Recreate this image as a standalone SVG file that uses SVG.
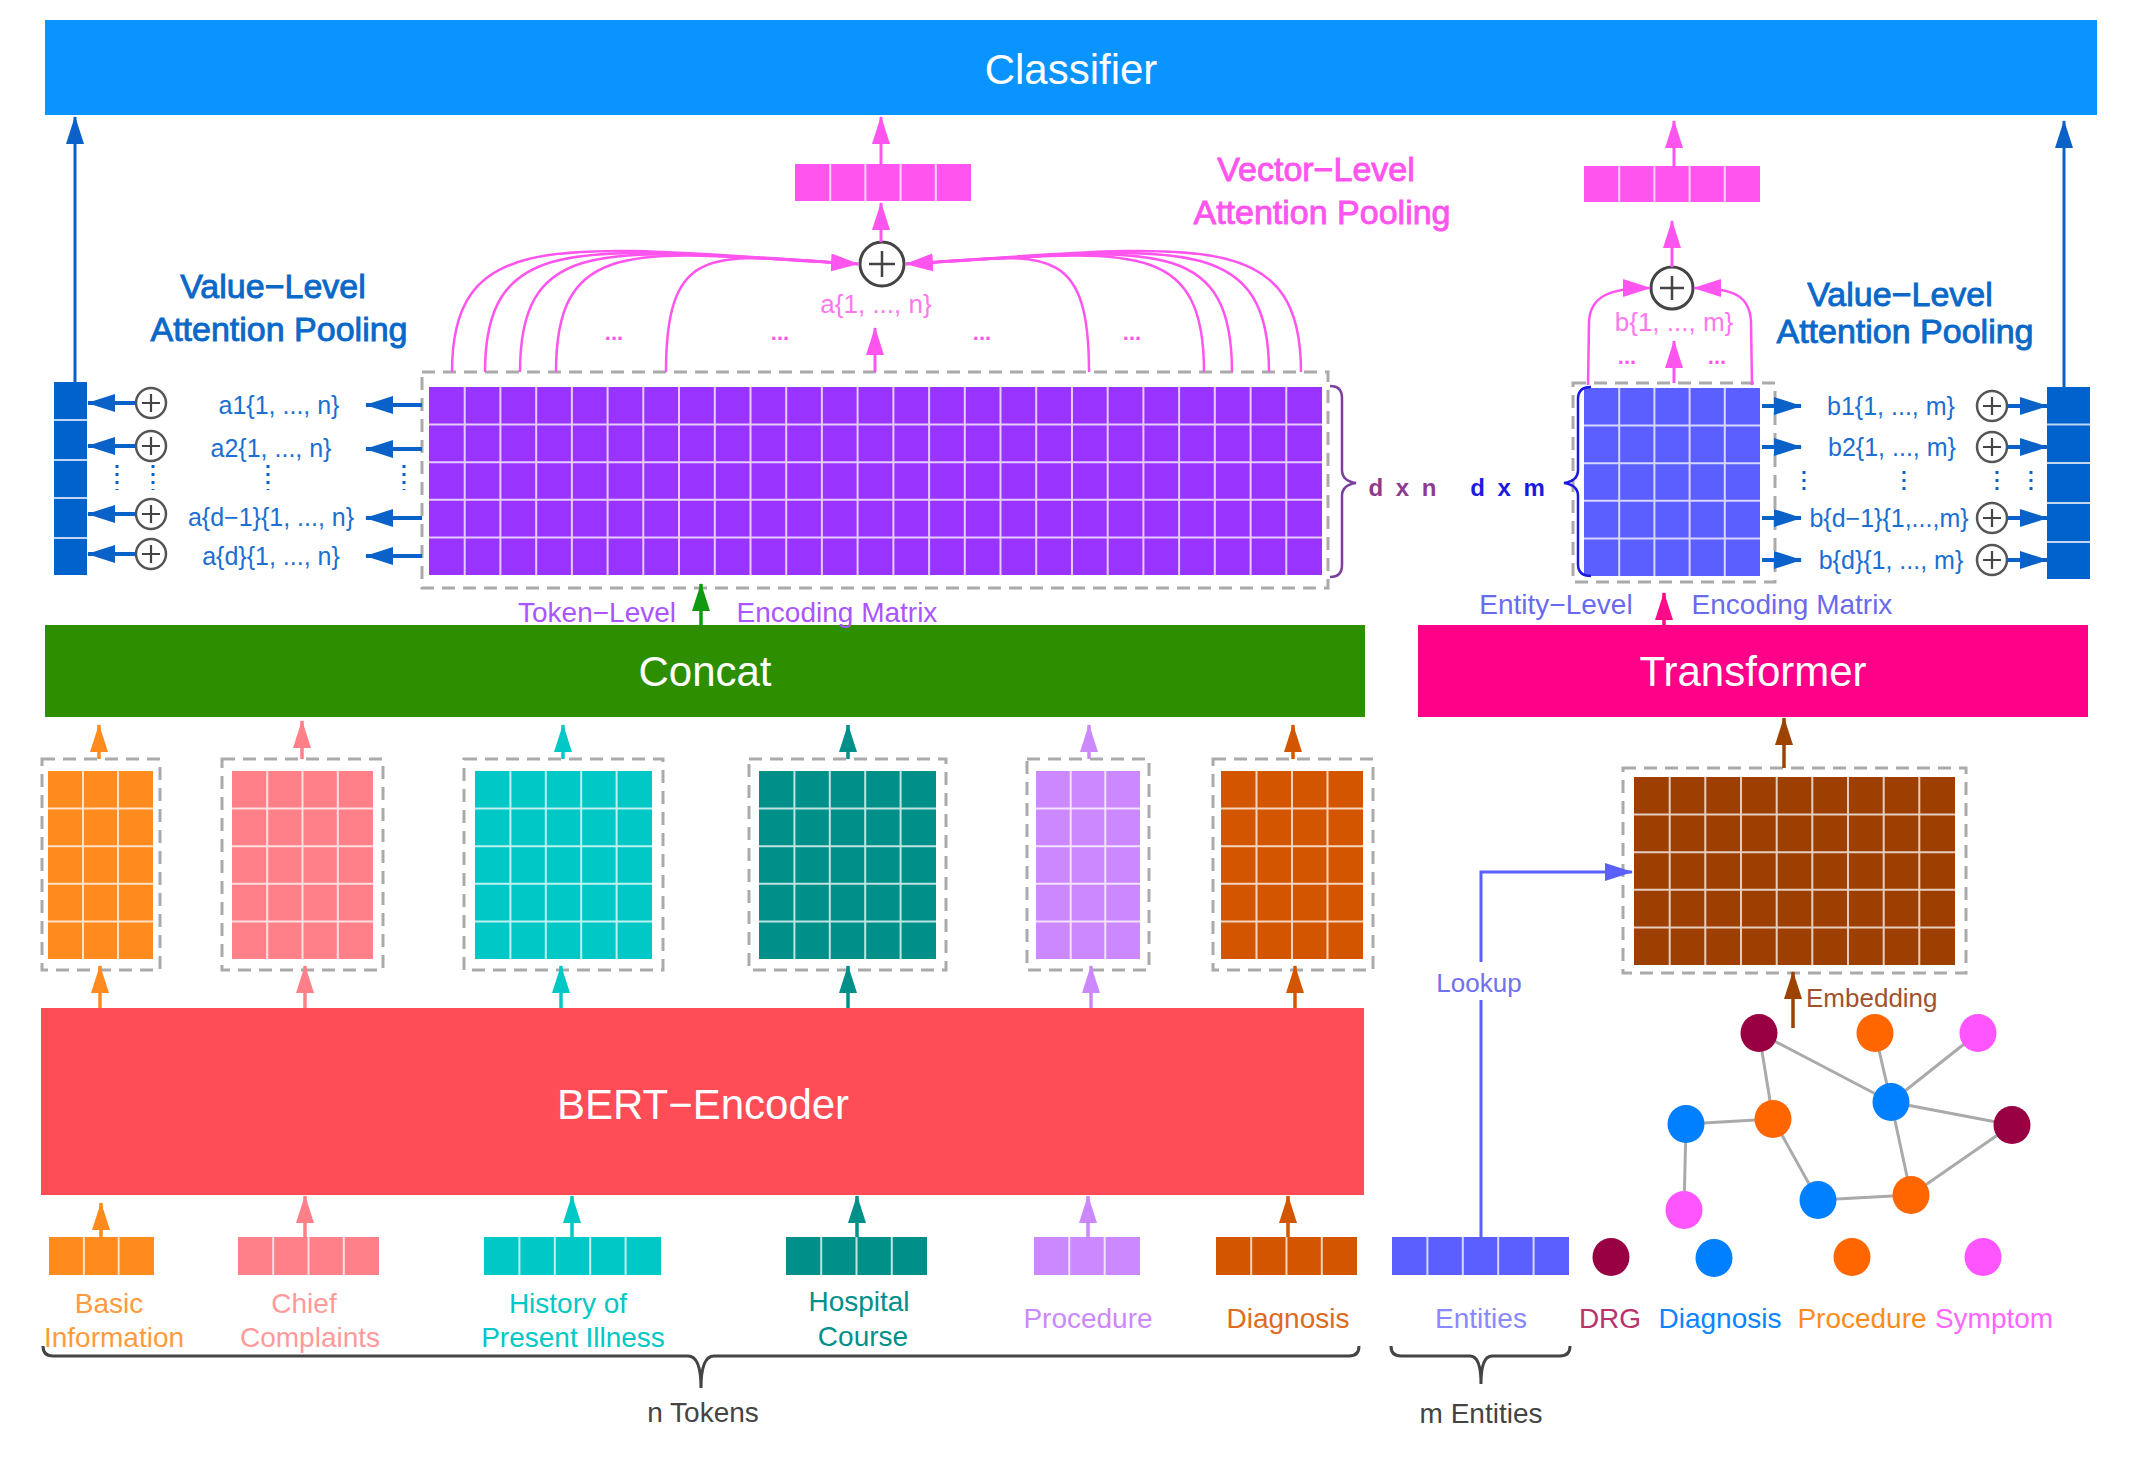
<svg xmlns="http://www.w3.org/2000/svg" width="2130" height="1472" viewBox="0 0 2130 1472">
<style>
.t{font-family:"Liberation Sans",Arial,Helvetica,sans-serif}
.grid{stroke:#ffffff;stroke-opacity:0.75;stroke-width:2;fill:none}
.dash{fill:none;stroke:#AAAAAA;stroke-width:3;stroke-dasharray:13 8}
.pc circle{fill:#ffffff;stroke:#555555;stroke-width:2.5}
.pc path{stroke:#444444;stroke-width:2.2;fill:none}
.big{font-size:42px;fill:#ffffff;text-anchor:middle}
.lab{font-size:25px;fill:#1B6FD1;text-anchor:middle}
.sec{font-size:28px;text-anchor:middle}
.ttl{font-size:34px;text-anchor:middle;stroke-width:0.9}
.dot{stroke-width:3;stroke-dasharray:3 5;fill:none}
.edge{stroke:#AAAAAA;stroke-width:3}
</style>
<defs>
<marker id="aBlue" markerUnits="userSpaceOnUse" viewBox="0 0 28 18" markerWidth="28" markerHeight="18" refX="27" refY="9" orient="auto"><path d="M0,0 L28,9 L0,18 z" fill="#0A62C8"/></marker>
<marker id="aMag" markerUnits="userSpaceOnUse" viewBox="0 0 28 18" markerWidth="28" markerHeight="18" refX="27" refY="9" orient="auto"><path d="M0,0 L28,9 L0,18 z" fill="#FF55EE"/></marker>
<marker id="aGreen" markerUnits="userSpaceOnUse" viewBox="0 0 28 18" markerWidth="28" markerHeight="18" refX="27" refY="9" orient="auto"><path d="M0,0 L28,9 L0,18 z" fill="#119911"/></marker>
<marker id="aPink" markerUnits="userSpaceOnUse" viewBox="0 0 28 18" markerWidth="28" markerHeight="18" refX="27" refY="9" orient="auto"><path d="M0,0 L28,9 L0,18 z" fill="#FF0A88"/></marker>
<marker id="aOrange" markerUnits="userSpaceOnUse" viewBox="0 0 28 18" markerWidth="28" markerHeight="18" refX="27" refY="9" orient="auto"><path d="M0,0 L28,9 L0,18 z" fill="#FF8A1E"/></marker>
<marker id="aRose" markerUnits="userSpaceOnUse" viewBox="0 0 28 18" markerWidth="28" markerHeight="18" refX="27" refY="9" orient="auto"><path d="M0,0 L28,9 L0,18 z" fill="#FF8088"/></marker>
<marker id="aCyan" markerUnits="userSpaceOnUse" viewBox="0 0 28 18" markerWidth="28" markerHeight="18" refX="27" refY="9" orient="auto"><path d="M0,0 L28,9 L0,18 z" fill="#00C8C6"/></marker>
<marker id="aTeal" markerUnits="userSpaceOnUse" viewBox="0 0 28 18" markerWidth="28" markerHeight="18" refX="27" refY="9" orient="auto"><path d="M0,0 L28,9 L0,18 z" fill="#00908A"/></marker>
<marker id="aLav" markerUnits="userSpaceOnUse" viewBox="0 0 28 18" markerWidth="28" markerHeight="18" refX="27" refY="9" orient="auto"><path d="M0,0 L28,9 L0,18 z" fill="#CC88FF"/></marker>
<marker id="aDOr" markerUnits="userSpaceOnUse" viewBox="0 0 28 18" markerWidth="28" markerHeight="18" refX="27" refY="9" orient="auto"><path d="M0,0 L28,9 L0,18 z" fill="#D45500"/></marker>
<marker id="aBrown" markerUnits="userSpaceOnUse" viewBox="0 0 28 18" markerWidth="28" markerHeight="18" refX="27" refY="9" orient="auto"><path d="M0,0 L28,9 L0,18 z" fill="#9C4300"/></marker>
<marker id="aEnt" markerUnits="userSpaceOnUse" viewBox="0 0 28 18" markerWidth="28" markerHeight="18" refX="27" refY="9" orient="auto"><path d="M0,0 L28,9 L0,18 z" fill="#5B5FFF"/></marker>
</defs>
<rect width="2130" height="1472" fill="#ffffff"/>

<!-- main bars -->
<g id="classifier"><rect x="45" y="20" width="2052" height="95" fill="#0994FF"/><text class="t big" x="1071" y="84">Classifier</text></g>
<g id="concat"><rect x="45" y="625" width="1320" height="92" fill="#2D8E00"/><text class="t big" x="705" y="686">Concat</text></g>
<g id="transformer"><rect x="1418" y="625" width="670" height="92" fill="#FF0088"/><text class="t big" x="1753" y="686">Transformer</text></g>
<g id="bert"><rect x="41" y="1008" width="1323" height="187" fill="#FF4D58"/><text class="t big" x="703" y="1119">BERT−Encoder</text></g>

<!-- token-level matrix -->
<g id="token-matrix">
<rect class="dash" x="422" y="372" width="906" height="216"/>
<rect x="429" y="387" width="893" height="188" fill="#9933FF"/>
<path class="grid" d="M464.7 387V575M500.4 387V575M536.2 387V575M571.9 387V575M607.6 387V575M643.3 387V575M679 387V575M714.8 387V575M750.5 387V575M786.2 387V575M821.9 387V575M857.6 387V575M893.4 387V575M929.1 387V575M964.8 387V575M1000.5 387V575M1036.2 387V575M1072 387V575M1107.7 387V575M1143.4 387V575M1179.1 387V575M1214.8 387V575M1250.6 387V575M1286.3 387V575M429 424.6H1322M429 462.2H1322M429 499.8H1322M429 537.4H1322"/>
<path d="M1330 386 Q1342 386 1342 398 L1342 470 Q1342 481 1356 483 Q1342 485 1342 496 L1342 565 Q1342 577 1330 577" fill="none" stroke="#7B3F9E" stroke-width="2.5"/>
<text class="t" x="1404" y="496" font-size="24" font-weight="bold" fill="#8E3A8E" text-anchor="middle" letter-spacing="3">d x n</text>
<text class="t sec" x="597" y="622" fill="#AA55FF">Token−Level</text>
<text class="t sec" x="837" y="622" fill="#AA55FF">Encoding Matrix</text>
</g>

<!-- entity-level matrix -->
<g id="entity-matrix">
<rect class="dash" x="1573" y="383" width="202" height="199"/>
<rect x="1584" y="388" width="176" height="188" fill="#5B5FFF"/>
<path class="grid" d="M1619.2 388V576M1654.4 388V576M1689.6 388V576M1724.8 388V576M1584 425.6H1760M1584 463.2H1760M1584 500.8H1760M1584 538.4H1760"/>
<path d="M1591 387 Q1578 387 1578 399 L1578 470 Q1578 481 1564 483 Q1578 485 1578 496 L1578 564 Q1578 576 1591 576" fill="none" stroke="#1A1AE0" stroke-width="2.5"/>
<text class="t" x="1509" y="496" font-size="24" font-weight="bold" fill="#1A1AE0" text-anchor="middle" letter-spacing="3">d x m</text>
<text class="t sec" x="1556" y="614" fill="#6A6AEE">Entity−Level</text>
<text class="t sec" x="1792" y="614" fill="#6A6AEE">Encoding Matrix</text>
</g>

<!-- left value-level pooling -->
<g id="left-value-pooling">
<text class="t ttl" x="273" y="298" fill="#0A68C8" stroke="#0A68C8">Value−Level</text>
<text class="t ttl" x="279" y="341" fill="#0A68C8" stroke="#0A68C8">Attention Pooling</text>
<rect x="54" y="382" width="33" height="193" fill="#0062CC"/>
<path class="grid" d="M54 420H87M54 460H87M54 498H87M54 538H87"/>
<g class="pc"><circle cx="151" cy="403" r="15"/><path d="M142 403H160M151 394V412"/></g>
<g class="pc"><circle cx="151" cy="446" r="15"/><path d="M142 446H160M151 437V455"/></g>
<g class="pc"><circle cx="151" cy="514" r="15"/><path d="M142 514H160M151 505V523"/></g>
<g class="pc"><circle cx="151" cy="554" r="15"/><path d="M142 554H160M151 545V563"/></g>
<text class="t lab" x="279" y="414">a1{1, ..., n}</text>
<text class="t lab" x="271" y="457">a2{1, ..., n}</text>
<text class="t lab" x="271" y="526">a{d−1}{1, ..., n}</text>
<text class="t lab" x="271" y="565">a{d}{1, ..., n}</text>
<path class="dot" stroke="#0A62C8" d="M117 465V490M153 465V490M268 465V490M404 465V490"/>
</g>

<!-- right value-level pooling -->
<g id="right-value-pooling">
<text class="t ttl" x="1900" y="306" fill="#0A68C8" stroke="#0A68C8">Value−Level</text>
<text class="t ttl" x="1905" y="343" fill="#0A68C8" stroke="#0A68C8">Attention Pooling</text>
<rect x="2047" y="387" width="43" height="192" fill="#0062CC"/>
<path class="grid" d="M2047 424.5H2090M2047 463H2090M2047 503H2090M2047 542H2090"/>
<g class="pc"><circle cx="1992" cy="406" r="15"/><path d="M1983 406H2001M1992 397V415"/></g>
<g class="pc"><circle cx="1992" cy="447" r="15"/><path d="M1983 447H2001M1992 438V456"/></g>
<g class="pc"><circle cx="1992" cy="518" r="15"/><path d="M1983 518H2001M1992 509V527"/></g>
<g class="pc"><circle cx="1992" cy="560" r="15"/><path d="M1983 560H2001M1992 551V569"/></g>
<text class="t lab" x="1891" y="415">b1{1, ..., m}</text>
<text class="t lab" x="1892" y="456">b2{1, ..., m}</text>
<text class="t lab" x="1889" y="527">b{d−1}{1,...,m}</text>
<text class="t lab" x="1891" y="569">b{d}{1, ..., m}</text>
<path class="dot" stroke="#0A62C8" d="M1804 471V494M1904 471V494M1997 471V494M2031 471V494"/>
</g>

<!-- vector-level pooling -->
<g id="vector-pooling">
<text class="t ttl" x="1316" y="181" fill="#FF55EE" stroke="#FF55EE">Vector−Level</text>
<text class="t ttl" x="1322" y="224" fill="#FF55EE" stroke="#FF55EE">Attention Pooling</text>
<rect x="795" y="164" width="176" height="37" fill="#FF55EE"/>
<path class="grid" d="M830.2 164V201M865.4 164V201M900.6 164V201M935.8 164V201"/>
<circle cx="882" cy="264" r="22" fill="#ffffff" stroke="#444444" stroke-width="3"/>
<path d="M869 264H895M882 251V277" stroke="#444444" stroke-width="2.5"/>
<text class="t" x="876" y="313" font-size="26" fill="#FF77EE" text-anchor="middle">a{1, ..., n}</text>
<g class="t" font-size="22" font-weight="bold" fill="#FF55EE" text-anchor="middle"><text x="614" y="340">...</text><text x="780" y="340">...</text><text x="982" y="340">...</text><text x="1132" y="340">...</text><text x="1627" y="364">...</text><text x="1717" y="364">...</text></g>
<rect x="1584" y="166" width="176" height="36" fill="#FF55EE"/>
<path class="grid" d="M1619.2 166V202M1654.4 166V202M1689.6 166V202M1724.8 166V202"/>
<circle cx="1672" cy="288" r="21" fill="#ffffff" stroke="#444444" stroke-width="3"/>
<path d="M1660 288H1684M1672 276V300" stroke="#444444" stroke-width="2.5"/>
<text class="t" x="1674" y="331" font-size="26" fill="#FF77EE" text-anchor="middle">b{1, ..., m}</text>
</g>

<!-- section encodings -->
<g id="enc-basic"><rect class="dash" x="42" y="759" width="118" height="211"/><rect x="48" y="771" width="105" height="188" fill="#FF8A1E"/><path class="grid" d="M83 771V959M118 771V959M48 808.6H153M48 846.2H153M48 883.8H153M48 921.4H153"/></g>
<g id="enc-chief"><rect class="dash" x="222" y="759" width="161" height="211"/><rect x="232" y="771" width="141" height="188" fill="#FF8088"/><path class="grid" d="M267.2 771V959M302.5 771V959M337.8 771V959M232 808.6H373M232 846.2H373M232 883.8H373M232 921.4H373"/></g>
<g id="enc-history"><rect class="dash" x="464" y="759" width="199" height="211"/><rect x="475" y="771" width="177" height="188" fill="#00C8C6"/><path class="grid" d="M510.4 771V959M545.8 771V959M581.2 771V959M616.6 771V959M475 808.6H652M475 846.2H652M475 883.8H652M475 921.4H652"/></g>
<g id="enc-hospital"><rect class="dash" x="749" y="759" width="197" height="211"/><rect x="759" y="771" width="177" height="188" fill="#00908A"/><path class="grid" d="M794.4 771V959M829.8 771V959M865.2 771V959M900.6 771V959M759 808.6H936M759 846.2H936M759 883.8H936M759 921.4H936"/></g>
<g id="enc-procedure"><rect class="dash" x="1027" y="759" width="122" height="211"/><rect x="1036" y="771" width="104" height="188" fill="#CC88FF"/><path class="grid" d="M1070.7 771V959M1105.3 771V959M1036 808.6H1140M1036 846.2H1140M1036 883.8H1140M1036 921.4H1140"/></g>
<g id="enc-diagnosis"><rect class="dash" x="1213" y="759" width="160" height="211"/><rect x="1221" y="771" width="142" height="188" fill="#D45500"/><path class="grid" d="M1256.5 771V959M1292 771V959M1327.5 771V959M1221 808.6H1363M1221 846.2H1363M1221 883.8H1363M1221 921.4H1363"/></g>

<!-- entity embedding -->
<g id="entity-embedding"><rect class="dash" x="1623" y="768" width="343" height="205"/><rect x="1634" y="777" width="321" height="188" fill="#9C3F00"/><path class="grid" d="M1669.7 777V965M1705.3 777V965M1741 777V965M1776.7 777V965M1812.3 777V965M1848 777V965M1883.7 777V965M1919.3 777V965M1634 814.6H1955M1634 852.2H1955M1634 889.8H1955M1634 927.4H1955"/>
<text class="t" x="1806" y="1007" font-size="26" fill="#A0522D">Embedding</text></g>

<!-- inputs -->
<g id="in-basic"><rect x="49" y="1237" width="105" height="38" fill="#FF8A1E"/><path class="grid" d="M83.9 1237V1275M118.7 1237V1275"/><text class="t sec" x="109" y="1313" fill="#FF9A40">Basic</text><text class="t sec" x="114" y="1347" fill="#FF9A40">Information</text></g>
<g id="in-chief"><rect x="238" y="1237" width="141" height="38" fill="#FF8088"/><path class="grid" d="M273.2 1237V1275M308.5 1237V1275M343.8 1237V1275"/><text class="t sec" x="304" y="1313" fill="#FF9A9A">Chief</text><text class="t sec" x="310" y="1347" fill="#FF9A9A">Complaints</text></g>
<g id="in-history"><rect x="484" y="1237" width="177" height="38" fill="#00C8C6"/><path class="grid" d="M519.4 1237V1275M554.8 1237V1275M590.2 1237V1275M625.6 1237V1275"/><text class="t sec" x="568" y="1313" fill="#00C8C6">History of</text><text class="t sec" x="573" y="1347" fill="#00C8C6">Present Illness</text></g>
<g id="in-hospital"><rect x="786" y="1237" width="141" height="38" fill="#00908A"/><path class="grid" d="M821.2 1237V1275M856.5 1237V1275M891.8 1237V1275"/><text class="t sec" x="859" y="1311" fill="#00908A">Hospital</text><text class="t sec" x="863" y="1346" fill="#00908A">Course</text></g>
<g id="in-procedure"><rect x="1034" y="1237" width="106" height="38" fill="#CC88FF"/><path class="grid" d="M1069.3 1237V1275M1104.7 1237V1275"/><text class="t sec" x="1088" y="1328" fill="#CC88FF">Procedure</text></g>
<g id="in-diagnosis"><rect x="1216" y="1237" width="141" height="38" fill="#D45500"/><path class="grid" d="M1251.2 1237V1275M1286.5 1237V1275M1321.8 1237V1275"/><text class="t sec" x="1288" y="1328" fill="#DD6A20">Diagnosis</text></g>
<g id="in-entities"><rect x="1392" y="1237" width="177" height="38" fill="#5B5FFF"/><path class="grid" d="M1427.4 1237V1275M1462.8 1237V1275M1498.2 1237V1275M1533.6 1237V1275"/><text class="t sec" x="1481" y="1328" fill="#8888FF">Entities</text></g>

<!-- braces -->
<g id="braces" fill="none" stroke="#444444" stroke-width="3">
<path d="M43 1346 Q43 1356 53 1356 L688 1356 Q701 1356 701 1388 Q701 1356 714 1356 L1349 1356 Q1359 1356 1359 1346"/>
<path d="M1391 1346 Q1391 1356 1401 1356 L1470 1356 Q1481 1356 1481 1384 Q1481 1356 1492 1356 L1560 1356 Q1570 1356 1570 1346"/>
</g>
<text class="t sec" x="703" y="1422" fill="#444444">n Tokens</text>
<text class="t sec" x="1481" y="1423" fill="#444444">m Entities</text>

<!-- legend -->
<g id="legend">
<ellipse cx="1611" cy="1257" rx="18.5" ry="19" fill="#990044"/>
<ellipse cx="1714" cy="1258" rx="18.5" ry="19" fill="#007FFF"/>
<ellipse cx="1852" cy="1257" rx="18.5" ry="19" fill="#FF6600"/>
<ellipse cx="1983" cy="1257" rx="18.5" ry="19" fill="#FF55FF"/>
<text class="t sec" x="1610" y="1328" fill="#B8336A">DRG</text>
<text class="t sec" x="1720" y="1328" fill="#0A84FF">Diagnosis</text>
<text class="t sec" x="1862" y="1328" fill="#FF8C1A">Procedure</text>
<text class="t sec" x="1994" y="1328" fill="#FF66FF">Symptom</text>
</g>

<!-- connectors -->
<g id="connectors" fill="none">
<!-- graph edges -->
<g class="edge">
<path d="M1759 1033L1773 1119M1759 1033L1891 1102M1875 1033L1891 1102M1978 1033L1891 1102M1891 1102L2012 1125M1686 1124L1773 1119M1686 1124L1684 1210M1773 1119L1818 1200M1818 1200L1911 1195M1891 1102L1911 1195M2012 1125L1911 1195"/>
</g>
<!-- classifier inputs -->
<path d="M75 382V117" stroke="#0A62C8" stroke-width="3" marker-end="url(#aBlue)"/>
<path d="M2064 387V121" stroke="#0A62C8" stroke-width="3" marker-end="url(#aBlue)"/>
<path d="M881 164V117" stroke="#FF55EE" stroke-width="3" marker-end="url(#aMag)"/>
<path d="M1674 166V121" stroke="#FF55EE" stroke-width="3" marker-end="url(#aMag)"/>
<path d="M881 242V203" stroke="#FF55EE" stroke-width="3" marker-end="url(#aMag)"/>
<path d="M1672 267V221" stroke="#FF55EE" stroke-width="3" marker-end="url(#aMag)"/>
<path d="M875 372V328" stroke="#FF55EE" stroke-width="3" marker-end="url(#aMag)"/>
<path d="M1674 383V341" stroke="#FF55EE" stroke-width="3" marker-end="url(#aMag)"/>
<!-- vector-level curves -->
<g stroke="#FF55EE" stroke-width="2.5">
<path d="M452 372C452 225 562 245 858 264"/>
<path d="M485 372C485 228 585 248 858 264"/>
<path d="M520 372C520 230 611 250 858 264"/>
<path d="M556 372C556 232 638 252 858 264"/>
<path d="M666 372C666 236 718 256 858 264" marker-end="url(#aMag)"/>
<path d="M1301 372C1301 225 1194 245 906 264"/>
<path d="M1269 372C1269 228 1171 248 906 264"/>
<path d="M1232 372C1232 230 1144 250 906 264"/>
<path d="M1204 372C1204 232 1124 252 906 264"/>
<path d="M1089 372C1089 236 1040 256 906 264" marker-end="url(#aMag)"/>
<path d="M1588 385L1589 322C1590 296 1610 288 1650 288" marker-end="url(#aMag)"/>
<path d="M1752 385L1751 322C1750 296 1734 288 1694 288" marker-end="url(#aMag)"/>
</g>
<!-- value-level arrows -->
<g stroke="#0A62C8" stroke-width="4">
<path d="M422 405H366" marker-end="url(#aBlue)"/>
<path d="M422 449H366" marker-end="url(#aBlue)"/>
<path d="M422 518H366" marker-end="url(#aBlue)"/>
<path d="M422 556H366" marker-end="url(#aBlue)"/>
<path d="M136 403H88" marker-end="url(#aBlue)"/>
<path d="M136 446H88" marker-end="url(#aBlue)"/>
<path d="M136 514H88" marker-end="url(#aBlue)"/>
<path d="M136 554H88" marker-end="url(#aBlue)"/>
<path d="M1762 406H1801" marker-end="url(#aBlue)"/>
<path d="M1762 447H1801" marker-end="url(#aBlue)"/>
<path d="M1762 518H1801" marker-end="url(#aBlue)"/>
<path d="M1762 560H1801" marker-end="url(#aBlue)"/>
<path d="M2007 406H2047" marker-end="url(#aBlue)"/>
<path d="M2007 447H2047" marker-end="url(#aBlue)"/>
<path d="M2007 518H2047" marker-end="url(#aBlue)"/>
<path d="M2007 560H2047" marker-end="url(#aBlue)"/>
</g>
<!-- encoders to matrices -->
<path d="M701 625V584" stroke="#119911" stroke-width="3.5" marker-end="url(#aGreen)"/>
<path d="M1664 625V593" stroke="#FF0A88" stroke-width="3.5" marker-end="url(#aPink)"/>
<g stroke-width="3.5">
<path d="M99 759V725" stroke="#FF8A1E" marker-end="url(#aOrange)"/>
<path d="M302 759V721" stroke="#FF8088" marker-end="url(#aRose)"/>
<path d="M563 759V725" stroke="#00C8C6" marker-end="url(#aCyan)"/>
<path d="M848 759V725" stroke="#00908A" marker-end="url(#aTeal)"/>
<path d="M1089 759V725" stroke="#CC88FF" marker-end="url(#aLav)"/>
<path d="M1293 759V725" stroke="#D45500" marker-end="url(#aDOr)"/>
<path d="M100 1008V966" stroke="#FF8A1E" marker-end="url(#aOrange)"/>
<path d="M305 1008V966" stroke="#FF8088" marker-end="url(#aRose)"/>
<path d="M561 1008V966" stroke="#00C8C6" marker-end="url(#aCyan)"/>
<path d="M848 1008V966" stroke="#00908A" marker-end="url(#aTeal)"/>
<path d="M1091 1008V966" stroke="#CC88FF" marker-end="url(#aLav)"/>
<path d="M1295 1008V966" stroke="#D45500" marker-end="url(#aDOr)"/>
<path d="M101 1237V1203" stroke="#FF8A1E" marker-end="url(#aOrange)"/>
<path d="M305 1237V1196" stroke="#FF8088" marker-end="url(#aRose)"/>
<path d="M572 1237V1196" stroke="#00C8C6" marker-end="url(#aCyan)"/>
<path d="M857 1237V1196" stroke="#00908A" marker-end="url(#aTeal)"/>
<path d="M1088 1237V1196" stroke="#CC88FF" marker-end="url(#aLav)"/>
<path d="M1288 1237V1196" stroke="#D45500" marker-end="url(#aDOr)"/>
<path d="M1784 768V718" stroke="#9C4300" marker-end="url(#aBrown)"/>
<path d="M1793 1028V972" stroke="#9C4300" marker-end="url(#aBrown)"/>
</g>
<path d="M1481 1237V1000M1481 962V872H1632" stroke="#5B5FFF" stroke-width="3" marker-end="url(#aEnt)"/>
</g>
<text class="t" x="1479" y="992" font-size="26" fill="#7070F0" text-anchor="middle">Lookup</text>

<!-- graph nodes -->
<g id="graph">
<ellipse cx="1759" cy="1033" rx="18.5" ry="19" fill="#990044"/>
<ellipse cx="1875" cy="1033" rx="18.5" ry="19" fill="#FF6600"/>
<ellipse cx="1978" cy="1033" rx="18.5" ry="19" fill="#FF55FF"/>
<ellipse cx="1891" cy="1102" rx="18.5" ry="19" fill="#007FFF"/>
<ellipse cx="2012" cy="1125" rx="18.5" ry="19" fill="#990044"/>
<ellipse cx="1686" cy="1124" rx="18.5" ry="19" fill="#007FFF"/>
<ellipse cx="1773" cy="1119" rx="18.5" ry="19" fill="#FF6600"/>
<ellipse cx="1684" cy="1210" rx="18.5" ry="19" fill="#FF55FF"/>
<ellipse cx="1818" cy="1200" rx="18.5" ry="19" fill="#007FFF"/>
<ellipse cx="1911" cy="1195" rx="18.5" ry="19" fill="#FF6600"/>
</g>
</svg>
